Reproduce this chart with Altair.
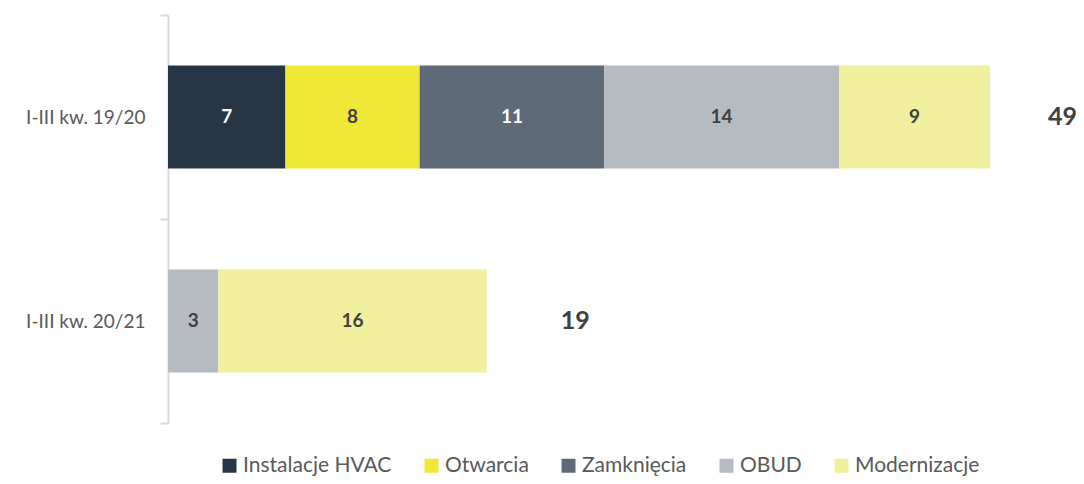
import altair as alt
import pandas as pd

categories = ["I-III kw. 19/20", "I-III kw. 20/21"]
series = ["Instalacje HVAC", "Otwarcia", "Zamknięcia", "OBUD", "Modernizacje"]
values_1920 = [7, 8, 11, 14, 9]
values_2021 = [None, None, None, 3, 16]
colors = ["#263646", "#f0e837", "#5e6a77", "#b6bac1", "#f0f09e"]
white_label_series = ["Instalacje HVAC", "Zamknięcia"]

rows = []
for cat, vals in zip(categories, [values_1920, values_2021]):
    for i, (s, v) in enumerate(zip(series, vals)):
        if v is not None:
            rows.append({"category": cat, "series": s, "value": v, "order": i})
df = pd.DataFrame(rows)

totals = pd.DataFrame({
    "category": categories,
    "total": [sum(v for v in vals if v is not None) for vals in [values_1920, values_2021]],
})

FONT = "Lato"

y_enc = alt.Y(
    "category:N",
    sort=categories,
    scale=alt.Scale(paddingInner=0, paddingOuter=0),
    axis=alt.Axis(
        title=None,
        domainColor="#d9d9d9",
        domainWidth=2,
        tickColor="#d9d9d9",
        tickWidth=2,
        tickSize=8,
        tickBand="extent",
        labelFont=FONT,
        labelFontSize=19,
        labelColor="#595959",
        labelPadding=15,
    ),
)

x_scale = alt.Scale(domain=[0, 49], nice=False, zero=True)

bars = alt.Chart(df).mark_bar(size=103).encode(
    y=y_enc,
    x=alt.X("value:Q", stack="zero", scale=x_scale, axis=None),
    color=alt.Color(
        "series:N",
        sort=series,
        scale=alt.Scale(domain=series, range=colors),
        legend=alt.Legend(
            title=None,
            orient="none",
            direction="horizontal",
            legendX=51,
            legendY=440,
            symbolType="square",
            symbolSize=196,
            symbolStrokeWidth=0,
            labelFont=FONT,
            labelFontSize=21,
            labelColor="#595959",
            labelOffset=3,
            columnPadding=29,
        ),
    ),
    order=alt.Order("order:Q"),
)

labels = alt.Chart(df).transform_stack(
    stack="value", as_=["x0", "x1"], groupby=["category"], sort=[alt.SortField("order")]
).transform_calculate(
    mid="(datum.x0 + datum.x1) / 2"
).mark_text(font=FONT, fontSize=19, fontWeight="bold").encode(
    y=alt.Y("category:N", sort=categories),
    x=alt.X("mid:Q", scale=x_scale),
    text=alt.Text("value:Q"),
    color=alt.condition(
        alt.FieldOneOfPredicate(field="series", oneOf=white_label_series),
        alt.value("#ffffff"),
        alt.value("#404040"),
    ),
)

total1 = alt.Chart(totals).transform_filter(
    alt.datum.category == categories[0]
).mark_text(font=FONT, fontSize=25, fontWeight="bold", align="left", dx=58, color="#404040").encode(
    y=alt.Y("category:N", sort=categories),
    x=alt.X("total:Q", scale=x_scale),
    text="total:Q",
)

total2 = alt.Chart(totals).transform_filter(
    alt.datum.category == categories[1]
).mark_text(font=FONT, fontSize=25, fontWeight="bold", align="left", dx=74, color="#404040").encode(
    y=alt.Y("category:N", sort=categories),
    x=alt.X("total:Q", scale=x_scale),
    text="total:Q",
)

chart = alt.layer(bars, labels, total1, total2).properties(
    width=822,
    height=408,
    autosize=alt.AutoSizeParams(type="none"),
    padding={"left": 160, "top": 7, "right": 86, "bottom": 53},
).configure_view(stroke=None)

chart.save("out.html", embed_options={"renderer": "svg", "actions": False})
